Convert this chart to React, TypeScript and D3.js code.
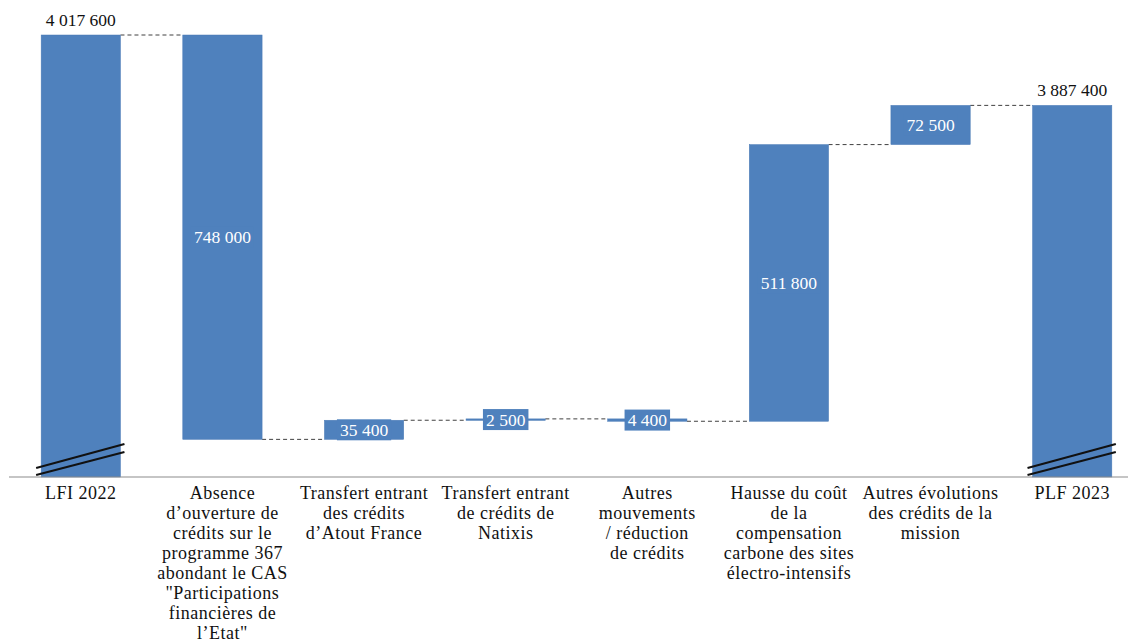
import React from "react";
import * as d3 from "d3";

const categories: string[][] = [
  ["LFI 2022"],
  ["Absence", "d\u2019ouverture de", "crédits sur le", "programme 367", "abondant le CAS", "\"Participations", "financières de", "l\u2019Etat\""],
  ["Transfert entrant", "des crédits", "d\u2019Atout France"],
  ["Transfert entrant", "de crédits de", "Natixis"],
  ["Autres", "mouvements", "/ réduction", "de crédits"],
  ["Hausse du coût", "de la", "compensation", "carbone des sites", "électro-intensifs"],
  ["Autres évolutions", "des crédits de la", "mission"],
  ["PLF 2023"],
];
const values: number[] = [4017600, -748000, 35400, 2500, -4400, 511800, 72500, 3887400];
const isTotal: boolean[] = [true, false, false, false, false, false, false, true];
const axisFloor = 3200000;

const W = 1128;
const H = 644;
const BLUE = "#4F81BD";
const FONT = "Liberation Serif, DejaVu Serif, serif";

const loc = d3.formatLocale({ decimal: ",", thousands: " ", grouping: [3], currency: ["", ""] });
const fmt = loc.format(",d");

export default function App() {
  const x = d3
    .scaleBand<number>()
    .domain(d3.range(categories.length))
    .range([10, 1143])
    .paddingInner(0.44)
    .paddingOuter(0.22);
  const y = d3.scaleLinear().domain([axisFloor, 4017600]).range([477, 35]);
  const bw = x.bandwidth();

  let running = 0;
  const segs = values.map((v, i) => {
    if (isTotal[i]) {
      running = v;
      return { lo: axisFloor, hi: v, end: v };
    }
    const start = running;
    running = running + v;
    return { lo: Math.min(start, running), hi: Math.max(start, running), end: running };
  });

  const base = y(axisFloor);

  return (
    <svg
      width={W}
      height={H}
      style={{ position: "absolute", left: 0, top: 0, background: "#fff", fontFamily: FONT }}
    >
      {segs.slice(0, -1).map((s, i) => (
        <line
          key={"c" + i}
          x1={(x(i) as number) + bw}
          x2={x(i + 1) as number}
          y1={y(s.end)}
          y2={y(s.end)}
          stroke="#404040"
          strokeWidth={1}
          strokeDasharray="4,3"
        />
      ))}
      {segs.map((s, i) => (
        <rect
          key={"b" + i}
          x={x(i) as number}
          y={y(s.hi)}
          width={bw}
          height={Math.max(1.5, y(s.lo) - y(s.hi))}
          fill={BLUE}
          stroke="#4a7ab5"
          strokeWidth={0.5}
        />
      ))}
      <line x1={9} x2={W} y1={base} y2={base} stroke="#8c8c8c" strokeWidth={1.2} />
      {segs.map((s, i) =>
        isTotal[i] ? (
          <g key={"k" + i}>
            <line x1={(x(i) as number) - 5} x2={(x(i) as number) + bw + 4} y1={base - 9} y2={base - 33} stroke="#111" strokeWidth={2} />
            <line x1={(x(i) as number) - 5} x2={(x(i) as number) + bw + 4} y1={base - 2} y2={base - 25} stroke="#111" strokeWidth={2} />
          </g>
        ) : null
      )}
      {segs.map((s, i) => {
        const cx = (x(i) as number) + bw / 2;
        const label = fmt(Math.abs(values[i]));
        if (isTotal[i]) {
          return (
            <text key={"v" + i} x={cx} y={y(s.hi) - 9} textAnchor="middle" fontSize={17.5} fill="#111">
              {label}
            </text>
          );
        }
        const cy = (y(s.hi) + y(s.lo)) / 2;
        const tw = label.replace(/ /g, "").length * 8.75 + 4.5 + 6;
        return (
          <g key={"v" + i}>
            <rect x={cx - tw / 2} y={cy - 10.5} width={tw} height={21} fill={BLUE} />
            <text x={cx} y={cy + 6} textAnchor="middle" fontSize={17.5} fill="#fff">
              {label}
            </text>
          </g>
        );
      })}
      {categories.map((lines, i) => (
        <text key={"t" + i} x={(x(i) as number) + bw / 2} textAnchor="middle" fontSize={18} letterSpacing={0.5} fill="#111">
          {lines.map((ln, j) => (
            <tspan key={j} x={(x(i) as number) + bw / 2} y={498.5 + j * 20.1}>
              {ln}
            </tspan>
          ))}
        </text>
      ))}
    </svg>
  );
}
